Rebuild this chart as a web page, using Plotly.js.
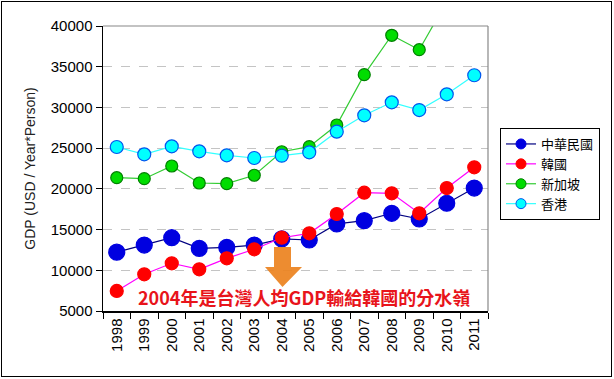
<!DOCTYPE html>
<html>
<head>
<meta charset="utf-8">
<script src="https://cdn.plot.ly/plotly-3.0.1.min.js"></script>
<style>
html,body{margin:0;padding:0;background:#fff;}
#wrap{position:relative;width:614px;height:379px;}
#chart{width:614px;height:379px;}
#frame{position:absolute;left:1px;top:1px;width:609px;height:374px;border:1.5px solid #000;pointer-events:none;}
</style>
</head>
<body>
<div id="wrap"><div id="chart"></div><div id="frame"></div></div>
<script>
const years = ['1998','1999','2000','2001','2002','2003','2004','2005','2006','2007','2008','2009','2010','2011'];
const taiwan = [12230, 13100, 14000, 12700, 12820, 13100, 13850, 13720, 15690, 16090, 17000, 16300, 18230, 20100];
const korea = [7460, 9510, 10860, 10120, 11470, 12580, 14000, 14540, 16910, 19530, 19450, 17000, 20100, 22650];
const singapore = [21370, 21250, 22810, 20720, 20640, 21670, 24560, 25180, 27840, 34020, 38860, 37090, 43000, 49000];
const hongkong = [25140, 24240, 25220, 24610, 24120, 23790, 24070, 24490, 27020, 29030, 30630, 29680, 31610, 33950];
const seriesNames = ['中華民國', '韓國', '新加坡', '香港'];
const noteText = '2004年是台灣人均GDP輸給韓國的分水嶺';

const L = 103, R = 488, T = 26, B = 311;
const px = x => (x - L) / (R - L);
const py = y => (B - y) / (B - T);

const styles = [
  {line: '#000080', fill: '#0000e0', edge: '#0000e0', size: 16},
  {line: '#ff00ff', fill: '#ff0000', edge: '#ff0000', size: 13},
  {line: '#33cc33', fill: '#00dd00', edge: '#008000', size: 12},
  {line: '#33ffff', fill: '#00ffff', edge: '#0055ee', size: 13}
];
const seriesValues = [taiwan, korea, singapore, hongkong];

const data = [];
seriesValues.forEach((vals, i) => {
  const s = styles[i];
  data.push({
    type: 'scatter', mode: 'lines+markers', name: seriesNames[i], x: years, y: vals,
    line: {color: s.line, width: 1.2},
    marker: {color: s.fill, size: s.size, line: {color: s.edge, width: 1.2}},
    cliponaxis: true, showlegend: false
  });
});
// legend entries (smaller symbols as in the reference legend)
seriesValues.forEach((vals, i) => {
  const s = styles[i];
  data.push({
    type: 'scatter', mode: 'lines+markers', name: seriesNames[i], x: [null], y: [null],
    line: {color: s.line, width: 1.2},
    marker: {color: s.fill, size: 10, line: {color: s.edge, width: 1}},
    showlegend: true, hoverinfo: 'skip'
  });
});

const arrowPath = [
  [274, 247], [291, 247], [291, 267], [302, 267], [282.5, 287], [265, 267], [274, 267]
].map((p, i) => (i ? 'L' : 'M') + px(p[0]).toFixed(4) + ',' + py(p[1]).toFixed(4)).join(' ') + ' Z';

const layout = {
  width: 614, height: 379,
  margin: {l: L, r: 614 - R, t: T, b: 379 - B},
  paper_bgcolor: '#fff', plot_bgcolor: '#fff',
  font: {family: 'Liberation Sans, Arial, sans-serif', color: '#000', size: 13},
  showlegend: true,
  legend: {
    x: px(500), y: py(128), xanchor: 'left', yanchor: 'top',
    bordercolor: '#000', borderwidth: 1, bgcolor: '#fff',
    font: {family: 'Noto Sans CJK TC, sans-serif', size: 13, color: '#000'},
    itemwidth: 30, tracegroupgap: 0
  },
  xaxis: {
    type: 'category', range: [-0.5, 13.5], tickson: 'boundaries',
    ticks: 'outside', ticklen: 6, tickcolor: '#000', tickwidth: 1,
    showline: true, linecolor: '#000', linewidth: 1.5,
    showgrid: false, tickangle: -90,
    tickfont: {size: 15, color: '#000'}, zeroline: false
  },
  yaxis: {
    range: [5000, 40000], dtick: 5000, tick0: 0, tickformat: 'd',
    ticks: 'outside', ticklen: 6, tickcolor: '#000',
    showline: true, linecolor: '#000', linewidth: 1.5,
    showgrid: true, gridcolor: '#c4c4c4', griddash: 'dash', gridwidth: 1,
    zeroline: false, tickfont: {size: 15, color: '#000'},
    title: {text: 'GDP (USD / Year*Person)', font: {size: 14, color: '#222'}, standoff: 12}
  },
  shapes: [
    {type: 'line', xref: 'paper', yref: 'paper', x0: 0, x1: 1, y0: 1, y1: 1, line: {color: '#888', width: 1.2}},
    {type: 'line', xref: 'paper', yref: 'paper', x0: 1, x1: 1, y0: 0, y1: 1, line: {color: '#888', width: 1.2}},
    {type: 'path', xref: 'paper', yref: 'paper', path: arrowPath, fillcolor: 'rgba(236,130,30,0.92)', line: {width: 0}}
  ],
  annotations: [
    {xref: 'paper', yref: 'paper', x: px(304), y: py(297), text: '<b>' + noteText + '</b>', showarrow: false,
     xanchor: 'center', yanchor: 'middle',
     font: {family: 'Noto Sans CJK TC, sans-serif', size: 18, color: '#e8141b',
            shadow: '1px 1px 2px #fff, -1px -1px 2px #fff, 1px -1px 2px #fff, -1px 1px 2px #fff'}}
  ]
};

Plotly.newPlot('chart', data, layout, {displayModeBar: false, staticPlot: true});
</script>
</body>
</html>
